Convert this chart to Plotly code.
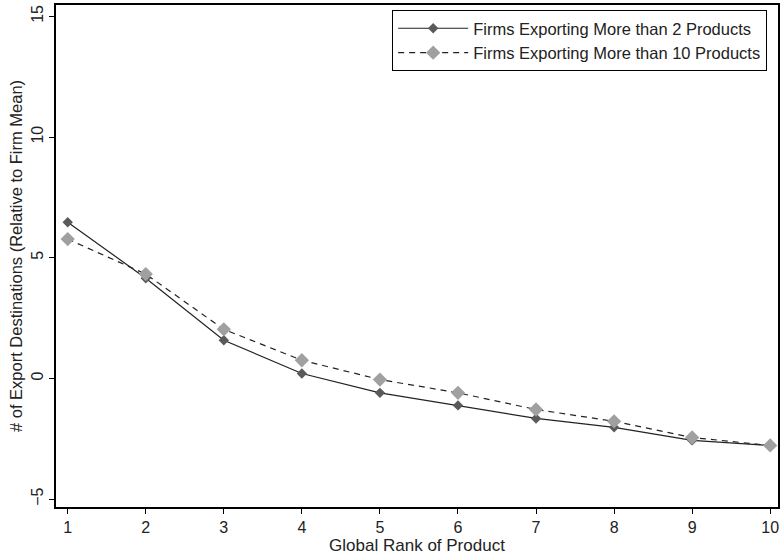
import plotly.graph_objects as go

rank = [1, 2, 3, 4, 5, 6, 7, 8, 9, 10]
more_than_2 = [6.47, 4.15, 1.58, 0.2, -0.6, -1.12, -1.66, -2.03, -2.57, -2.78]
more_than_10 = [5.77, 4.32, 2.03, 0.75, -0.05, -0.6, -1.29, -1.78, -2.45, -2.78]
y_ticks = [-5, 0, 5, 10, 15]
x_ticks = rank

font = "Liberation Sans, Arial, sans-serif"

fig = go.Figure()
fig.add_trace(go.Scatter(
    x=rank, y=more_than_2, mode="lines+markers",
    name="Firms Exporting More than 2 Products",
    line=dict(color="#222222", width=1.2),
    marker=dict(symbol="diamond", size=8, color="#5a5a5a"),
))
fig.add_trace(go.Scatter(
    x=rank, y=more_than_10, mode="lines+markers",
    name="Firms Exporting More than 10 Products",
    line=dict(color="#222222", width=1.2, dash="6px,5px"),
    marker=dict(symbol="diamond", size=11, color="#a0a0a0"),
))

fig.update_layout(
    width=781, height=557,
    margin=dict(l=56, r=3, t=5, b=50, autoexpand=False),
    paper_bgcolor="white", plot_bgcolor="white",
    font=dict(family=font, size=16, color="#222222"),
    legend=dict(
        x=0.985, y=0.99, xanchor="right", yanchor="top",
        bordercolor="black", borderwidth=1,
        font=dict(size=16.5, color="#222222"),
        tracegroupgap=0, itemwidth=70,
    ),
    showlegend=True,
)
fig.update_xaxes(
    range=[0.85, 10.1], tickvals=x_ticks, ticks="outside", ticklen=5,
    tickcolor="black", showline=True, linecolor="black", linewidth=2,
    mirror=True, showgrid=False, zeroline=False, automargin=False,
    title=dict(text="Global Rank of Product", font=dict(size=17), standoff=0),
    tickfont=dict(size=16),
)
fig.update_yaxes(
    range=[-5.33, 15.47], tickvals=y_ticks, ticks="outside", ticklen=5,
    tickcolor="black", showline=True, linecolor="black", linewidth=2,
    mirror=True, showgrid=False, zeroline=False, tickangle=-90, automargin=False,
    title=dict(text="# of Export Destinations (Relative to Firm Mean)", font=dict(size=16.5), standoff=2),
    tickfont=dict(size=16),
)

fig.write_html(
    "out.html",
    config={"displayModeBar": False},
    post_script="document.body.style.margin='0';document.body.style.overflow='hidden';",
)
